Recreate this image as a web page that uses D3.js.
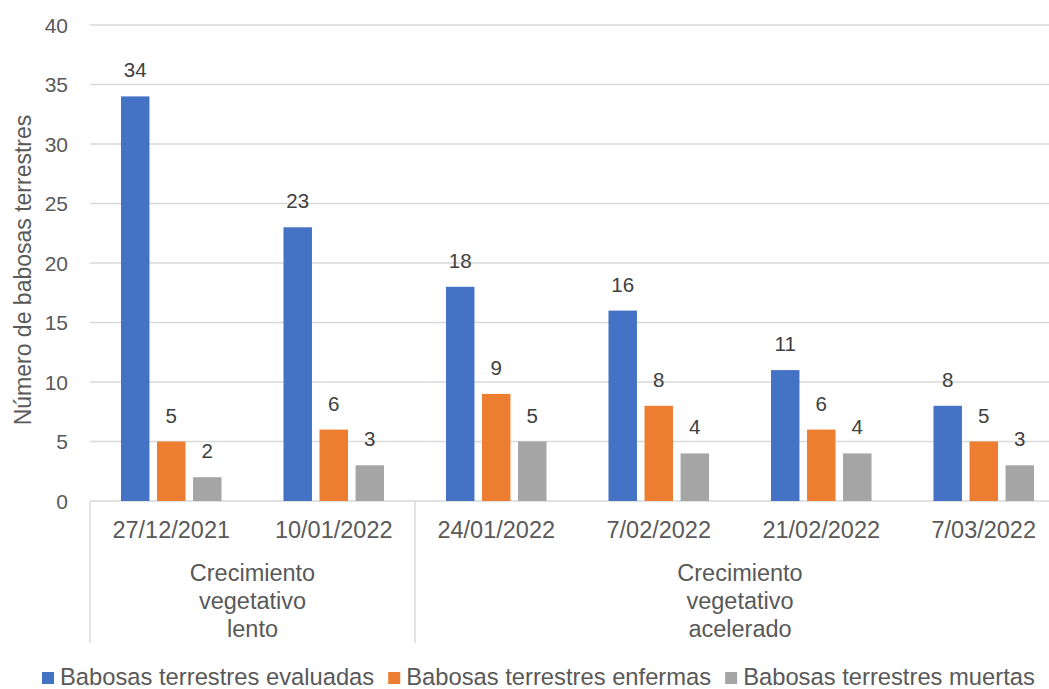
<!DOCTYPE html>
<html>
<head>
<meta charset="utf-8">
<script src="https://cdn.jsdelivr.net/npm/d3@7"></script>
<style>
  body { margin: 0; background: #fff; }
  svg { display: block; }
  text { font-family: "Liberation Sans", Arial, sans-serif; }
</style>
</head>
<body>
<div id="chart"></div>
<script>
const dates = ['27/12/2021', '10/01/2022', '24/01/2022', '7/02/2022', '21/02/2022', '7/03/2022'];
const groups = [
  { lines: ['Crecimiento', 'vegetativo', 'lento'], from: '27/12/2021', to: '10/01/2022' },
  { lines: ['Crecimiento', 'vegetativo', 'acelerado'], from: '24/01/2022', to: '7/03/2022' }
];
const seriesNames = ['Babosas terrestres evaluadas', 'Babosas terrestres enfermas', 'Babosas terrestres muertas'];
const evaluadas = [34, 23, 18, 16, 11, 8];
const enfermas = [5, 6, 9, 8, 6, 5];
const muertas = [2, 3, 5, 4, 4, 3];
const yTicks = [0, 5, 10, 15, 20, 25, 30, 35, 40];
const colors = ['#4472C4', '#ED7D31', '#A5A5A5'];

const chart = () => {
  const width = 1049;
  const height = 689;
  const svg = d3.select('#chart')
    .append('svg')
    .attr('width', width)
    .attr('height', height);

  const x0 = d3.scaleBand()
    .domain(dates)
    .range([90, 1065]);
  const x1 = d3.scaleBand()
    .domain(seriesNames)
    .range([0, x0.bandwidth()])
    .paddingInner(0.21)
    .paddingOuter(0.86);
  const y = d3.scaleLinear()
    .domain([0, 40])
    .range([501, 25]);

  // gridlines
  svg.append('g')
    .selectAll('line')
    .data(yTicks)
    .join('line')
    .attr('x1', 90)
    .attr('x2', 1065)
    .attr('y1', d => y(d))
    .attr('y2', d => y(d))
    .attr('stroke', '#D9D9D9')
    .attr('stroke-width', 1.5);

  // tick labels
  svg.append('g')
    .selectAll('text')
    .data(yTicks)
    .join('text')
    .attr('x', 68)
    .attr('y', d => y(d))
    .attr('dy', '0.36em')
    .attr('text-anchor', 'end')
    .attr('fill', '#595959')
    .style('font-size', '21px')
    .text(d => d);

  // y title
  svg.append('text')
    .attr('transform', 'translate(31,270) rotate(-90)')
    .attr('text-anchor', 'middle')
    .attr('fill', '#595959')
    .style('font-size', '23px')
    .text('Número de babosas terrestres');

  const values = [evaluadas, enfermas, muertas];
  const rows = [];
  values.forEach((arr, s) => arr.forEach((v, i) => rows.push({ s, date: dates[i], v })));

  svg.append('g')
    .selectAll('rect')
    .data(rows)
    .join('rect')
    .attr('x', d => x0(d.date) + x1(seriesNames[d.s]))
    .attr('y', d => y(d.v))
    .attr('width', x1.bandwidth())
    .attr('height', d => y(0) - y(d.v))
    .attr('fill', d => colors[d.s]);

  svg.append('g')
    .selectAll('text')
    .data(rows)
    .join('text')
    .attr('x', d => x0(d.date) + x1(seriesNames[d.s]) + x1.bandwidth() / 2)
    .attr('y', d => y(d.v) - 19)
    .attr('text-anchor', 'middle')
    .attr('fill', '#404040')
    .style('font-size', '20.5px')
    .text(d => d.v);

  // category axis
  svg.append('g')
    .selectAll('text')
    .data(dates)
    .join('text')
    .attr('x', d => x0(d) + x0.bandwidth() / 2)
    .attr('y', 538)
    .attr('text-anchor', 'middle')
    .attr('fill', '#595959')
    .style('font-size', '23.5px')
    .text(d => d);

  const seps = [x0(groups[0].from), x0(groups[1].from), x0(groups[1].to) + x0.bandwidth()];
  svg.append('g')
    .selectAll('line')
    .data(seps)
    .join('line')
    .attr('x1', d => d)
    .attr('x2', d => d)
    .attr('y1', y(0))
    .attr('y2', 643)
    .attr('stroke', '#D9D9D9')
    .attr('stroke-width', 1.5);

  const gl = svg.append('g')
    .selectAll('text')
    .data(groups)
    .join('text')
    .attr('text-anchor', 'middle')
    .attr('fill', '#595959')
    .style('font-size', '23.5px');
  gl.selectAll('tspan')
    .data(d => d.lines.map(l => ({ l, cx: (x0(d.from) + x0(d.to) + x0.bandwidth()) / 2 })))
    .join('tspan')
    .attr('x', d => d.cx)
    .attr('y', (d, i) => 581 + i * 28)
    .text(d => d.l);

  // legend
  const legend = svg.append('g');
  let lx = 42;
  seriesNames.forEach((name, i) => {
    legend.append('rect')
      .attr('x', lx)
      .attr('y', 672)
      .attr('width', 12)
      .attr('height', 12)
      .attr('fill', colors[i]);
    const t = legend.append('text')
      .attr('x', lx + 18)
      .attr('y', 685)
      .attr('fill', '#595959')
      .style('font-size', '23.75px')
      .text(name);
    lx += 18 + t.node().getComputedTextLength() + 14;
  });
}

chart();
</script>
</body>
</html>
